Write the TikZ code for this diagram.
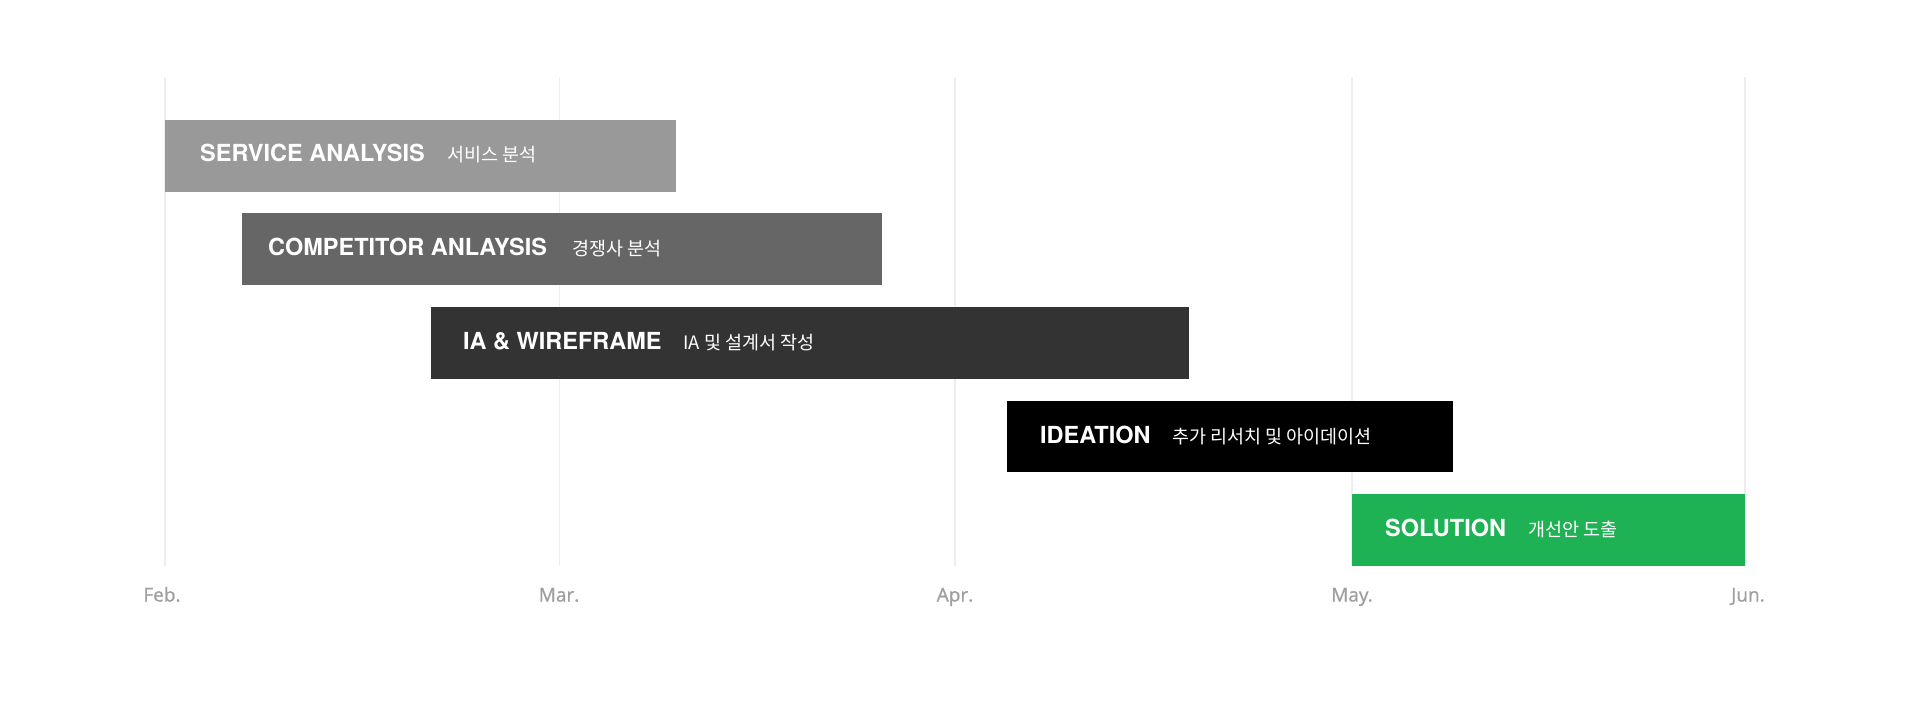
\documentclass[tikz,border=0pt]{standalone}
\usepackage{fontspec}
\setmainfont{TeX Gyre Heros}
\newfontfamily\krfont{Noto Sans CJK KR}
\newfontfamily\monfont[FakeBold=0.8]{Open Sans}
\definecolor{gridc}{HTML}{EEEEEE}
\definecolor{saC}{HTML}{999999}
\definecolor{caC}{HTML}{666666}
\definecolor{iaC}{HTML}{333333}
\definecolor{idC}{HTML}{000000}
\definecolor{soC}{HTML}{1FB254}
\definecolor{monC}{HTML}{9E9E9E}
\tikzset{
  gridline/.style={draw=gridc, line width=1.5pt},
  ttl/.style={anchor=base west, inner sep=0pt, text=white, font=\fontsize{23.5}{26}\selectfont\bfseries},
  kr/.style={anchor=base west, inner sep=0pt, text=white, font=\fontsize{18.5}{22}\krfont},
  mon/.style={anchor=base, inner sep=0pt, text=monC, font=\fontsize{19}{22}\monfont}
}
\begin{document}
\begin{tikzpicture}[x=1pt,y=-1pt]
\useasboundingbox[fill=white] (0,0) rectangle (1920,703);
% grid
\coordinate (gFt) at (165,77);  \coordinate (gFb) at (165,566);
\coordinate (gMt) at (559.5,77); \coordinate (gMb) at (559.5,566);
\coordinate (gAt) at (955,77);  \coordinate (gAb) at (955,566);
\coordinate (gYt) at (1352,77); \coordinate (gYb) at (1352,566);
\coordinate (gJt) at (1745,77); \coordinate (gJb) at (1745,566);
\draw[gridline] (gFt) -- (gFb);
\draw[gridline] (gMt) -- (gMb);
\draw[gridline] (gAt) -- (gAb);
\draw[gridline] (gYt) -- (gYb);
\draw[gridline] (gJt) -- (gJb);
% bars
\fill[saC] (165,120) rectangle (676,192);
\fill[caC] (241.5,213.5) rectangle (882,285.5);
\fill[iaC] (431,307) rectangle (1189,379);
\fill[idC] (1006.5,400.5) rectangle (1452.5,472);
\fill[soC] (1352,494) rectangle (1745,566);
% texts
\node[ttl] (t1) at (200,162) {SERVICE ANALYSIS};
\node[kr]  (k1) at (447,162) {서비스 분석};
\node[ttl] (t2) at (268,255.5) {COMPETITOR ANLAYSIS};
\node[kr]  (k2) at (572,255.5) {경쟁사 분석};
\node[ttl] (t3) at (463,349.5) {IA \& WIREFRAME};
\node[kr]  (k3) at (683,349.5) {IA 및 설계서 작성};
\node[ttl] (t4) at (1040,443) {IDEATION};
\node[kr]  (k4) at (1172,443) {추가 리서치 및 아이데이션};
\node[ttl] (t5) at (1385,536.5) {SOLUTION};
\node[kr]  (k5) at (1528,536.5) {개선안 도출};
% months
\node[mon] (m1) at (162,601.5) {Feb.};
\node[mon] (m2) at (559,601.5) {Mar.};
\node[mon] (m3) at (955,601.5) {Apr.};
\node[mon] (m4) at (1352,601.5) {May.};
\node[mon] (m5) at (1748,601.5) {Jun.};
\end{tikzpicture}
\end{document}
